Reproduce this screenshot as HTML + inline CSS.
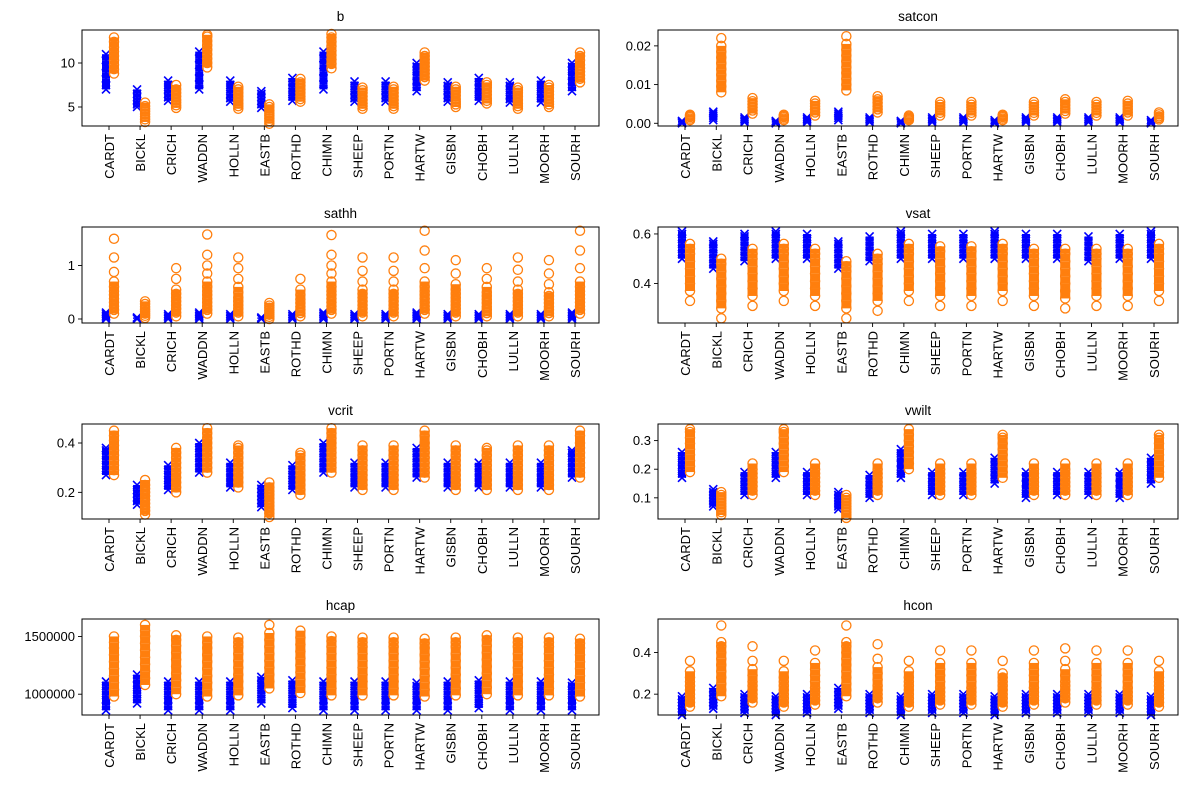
<!DOCTYPE html>
<html><head><meta charset="utf-8"><style>
html,body{margin:0;padding:0;background:#fff;}
svg{display:block;font-family:"Liberation Sans","DejaVu Sans",sans-serif;}
</style></head><body>
<svg id="fig" width="1189" height="791" viewBox="0 0 1189 791" xmlns="http://www.w3.org/2000/svg"></svg>
<script>
const categories=["CARDT","BICKL","CRICH","WADDN","HOLLN","EASTB","ROTHD","CHIMN","SHEEP","PORTN","HARTW","GISBN","CHOBH","LULLN","MOORH","SOURH"];

const bBlue=[[7,7.5,8.2,8.9,9.6,10.3,11],[5,5.3,5.7,6.1,6.5,7],[5.7,6.1,6.5,7,7.5,8],[7,7.6,8.3,9,9.8,10.5,11.3],[5.6,6,6.5,7,7.5,8],[4.9,5.3,5.7,6.1,6.5,6.8],[5.7,6.2,6.7,7.2,7.8,8.3],[7,7.6,8.3,9,9.8,10.5,11.3],[5.6,6,6.4,6.9,7.4,7.9],[5.6,6,6.4,6.9,7.4,7.9],[6.8,7.3,7.9,8.5,9.1,9.6,10],[5.6,6,6.4,6.9,7.4,7.8],[5.7,6.2,6.7,7.2,7.8,8.3],[5.5,5.9,6.4,6.9,7.4,7.8],[5.5,6,6.5,7,7.5,8],[6.8,7.3,7.9,8.5,9.1,9.6,10]];
const bOrange=[[8.8,9.3,9.8,10.3,10.8,11.3,11.8,12.4,12.9],[3.3,3.6,3.9,4.2,4.5,4.8,5.1,5.5],[4.9,5.2,5.5,5.8,6.2,6.6,7,7.5],[9.5,10,10.5,11,11.5,12,12.5,13,13.2],[4.8,5.1,5.4,5.8,6.2,6.6,7,7.3],[3.1,3.4,3.7,4,4.3,4.6,5,5.3],[5.6,5.9,6.2,6.6,7,7.4,7.8,8.2],[9.4,9.9,10.4,10.9,11.4,11.9,12.4,12.9,13.3],[4.8,5.1,5.4,5.8,6.2,6.6,6.9,7.2],[4.8,5.1,5.4,5.8,6.2,6.6,7,7.3],[8,8.4,8.8,9.2,9.6,10,10.4,10.8,11.2],[5,5.3,5.6,5.9,6.3,6.7,7,7.3],[5.4,5.7,6,6.4,6.8,7.2,7.5,7.8],[4.8,5.1,5.4,5.8,6.2,6.6,6.9,7.2],[5,5.3,5.6,6,6.4,6.8,7.2,7.5],[7.8,8.2,8.6,9,9.4,9.8,10.3,10.8,11.2]];

const satconBlue=[[0,0.0003,0.0006],[0.0008,0.0014,0.002,0.0025,0.003],[0.0003,0.0007,0.0011,0.0015],[0,0.0003,0.0006],[0.0003,0.0007,0.0011,0.0015],[0.0008,0.0014,0.002,0.0025,0.003],[0.0003,0.0007,0.0011,0.0015],[0,0.0003,0.0006],[0.0003,0.0007,0.0011,0.0015],[0.0003,0.0007,0.0011,0.0015],[0,0.0004,0.0008],[0.0003,0.0007,0.0011,0.0015],[0.0003,0.0007,0.0011,0.0015],[0.0003,0.0007,0.0011,0.0015],[0.0003,0.0007,0.0011,0.0015],[0,0.0004,0.0008]];
const satconOrange=[[0.0008,0.0012,0.0016,0.0019,0.0022],[0.008,0.0095,0.011,0.0125,0.014,0.0155,0.017,0.0185,0.02,0.022],[0.0025,0.0033,0.0041,0.0049,0.0057,0.0065],[0.0008,0.0012,0.0016,0.0019,0.0022],[0.002,0.0028,0.0036,0.0044,0.0051,0.0058],[0.0085,0.01,0.0115,0.013,0.0145,0.016,0.0175,0.019,0.0205,0.0225],[0.0028,0.0036,0.0044,0.0053,0.0062,0.007],[0.0008,0.0011,0.0014,0.0017,0.002],[0.002,0.0027,0.0034,0.0041,0.0048,0.0055],[0.002,0.0027,0.0034,0.0041,0.0048,0.0055],[0.0008,0.0012,0.0016,0.0019,0.0022],[0.002,0.0027,0.0034,0.0041,0.0048,0.0055],[0.0025,0.0032,0.0039,0.0047,0.0055,0.0062],[0.002,0.0027,0.0034,0.0041,0.0048,0.0055],[0.002,0.0028,0.0036,0.0044,0.0051,0.0058],[0.001,0.0014,0.0018,0.0023,0.0028]];

const sathhBlue=[[0,0.03,0.06,0.09,0.12],[0,0.015,0.03],[0,0.03,0.06,0.09],[0,0.03,0.06,0.09,0.12],[0,0.03,0.06,0.09],[0,0.015,0.03],[0,0.03,0.06,0.09],[0,0.03,0.06,0.09,0.12],[0,0.03,0.06,0.09],[0,0.03,0.06,0.09],[0,0.03,0.06,0.09,0.12],[0,0.03,0.06,0.09],[0,0.03,0.06,0.09],[0,0.03,0.06,0.09],[0,0.03,0.06,0.09],[0,0.03,0.06,0.09,0.12]];
const sathhOrange=[[0.1,0.17,0.24,0.31,0.38,0.45,0.52,0.6,0.7,0.88,1.15,1.5],[0.02,0.06,0.1,0.14,0.18,0.23,0.28,0.33],[0.05,0.12,0.19,0.26,0.33,0.4,0.47,0.55,0.75,0.95],[0.1,0.17,0.24,0.31,0.38,0.45,0.52,0.6,0.7,0.85,1.0,1.2,1.58],[0.05,0.12,0.19,0.26,0.33,0.4,0.5,0.6,0.75,0.95,1.15],[0,0.04,0.08,0.12,0.16,0.21,0.25,0.3],[0.05,0.11,0.17,0.23,0.3,0.37,0.45,0.55,0.75],[0.1,0.17,0.24,0.31,0.38,0.45,0.52,0.6,0.7,0.85,1.0,1.2,1.57],[0.05,0.12,0.19,0.26,0.33,0.4,0.47,0.55,0.7,0.9,1.15],[0.05,0.12,0.19,0.26,0.33,0.4,0.47,0.55,0.7,0.9,1.15],[0.1,0.17,0.24,0.31,0.38,0.45,0.52,0.6,0.7,0.95,1.28,1.65],[0.05,0.12,0.19,0.26,0.33,0.4,0.47,0.55,0.65,0.85,1.1],[0.05,0.11,0.17,0.23,0.3,0.37,0.43,0.5,0.6,0.75,0.95],[0.05,0.12,0.19,0.26,0.33,0.4,0.47,0.55,0.7,0.92,1.15],[0.05,0.11,0.17,0.23,0.3,0.37,0.43,0.5,0.65,0.85,1.1],[0.1,0.17,0.24,0.31,0.38,0.45,0.52,0.6,0.7,0.95,1.28,1.65]];

const vsatBlue=[[0.5,0.52,0.54,0.56,0.58,0.6,0.61],[0.46,0.48,0.5,0.52,0.54,0.56,0.57],[0.49,0.51,0.53,0.55,0.57,0.59,0.6],[0.5,0.52,0.54,0.56,0.58,0.6,0.61],[0.5,0.52,0.54,0.56,0.58,0.6],[0.46,0.48,0.5,0.52,0.54,0.56,0.57],[0.49,0.51,0.53,0.55,0.57,0.59],[0.5,0.52,0.54,0.56,0.58,0.6,0.61],[0.5,0.52,0.54,0.56,0.58,0.6],[0.5,0.52,0.54,0.56,0.58,0.6],[0.5,0.52,0.54,0.56,0.58,0.6,0.61],[0.5,0.52,0.54,0.56,0.58,0.6],[0.5,0.52,0.54,0.56,0.58,0.6],[0.49,0.51,0.53,0.55,0.57,0.59],[0.5,0.52,0.54,0.56,0.58,0.6],[0.5,0.52,0.54,0.56,0.58,0.6,0.61]];
const vsatOrange=[[0.33,0.37,0.4,0.43,0.46,0.49,0.52,0.54,0.56],[0.26,0.3,0.33,0.36,0.39,0.42,0.45,0.48,0.5],[0.31,0.35,0.38,0.41,0.44,0.47,0.5,0.52,0.54],[0.33,0.37,0.4,0.43,0.46,0.49,0.52,0.54,0.56],[0.31,0.35,0.38,0.41,0.44,0.47,0.5,0.52,0.54],[0.26,0.3,0.33,0.36,0.39,0.42,0.45,0.47,0.49],[0.29,0.33,0.36,0.39,0.42,0.45,0.48,0.5,0.52],[0.33,0.37,0.4,0.43,0.46,0.49,0.52,0.54,0.56],[0.31,0.35,0.38,0.41,0.44,0.47,0.5,0.53,0.55],[0.31,0.35,0.38,0.41,0.44,0.47,0.5,0.53,0.55],[0.33,0.37,0.4,0.43,0.46,0.49,0.52,0.54,0.56],[0.31,0.35,0.38,0.41,0.44,0.47,0.5,0.52,0.54],[0.3,0.34,0.37,0.4,0.43,0.46,0.49,0.52,0.54],[0.31,0.35,0.38,0.41,0.44,0.47,0.5,0.52,0.54],[0.31,0.35,0.38,0.41,0.44,0.47,0.5,0.52,0.54],[0.33,0.37,0.4,0.43,0.46,0.49,0.52,0.54,0.56]];

const vcritBlue=[[0.27,0.29,0.31,0.33,0.35,0.37,0.38],[0.15,0.165,0.18,0.195,0.21,0.23],[0.21,0.23,0.25,0.27,0.29,0.31],[0.28,0.3,0.32,0.34,0.36,0.38,0.4],[0.22,0.24,0.26,0.28,0.3,0.32],[0.14,0.155,0.17,0.185,0.2,0.215,0.23],[0.21,0.23,0.25,0.27,0.29,0.31],[0.28,0.3,0.32,0.34,0.36,0.38,0.4],[0.22,0.24,0.26,0.28,0.3,0.32],[0.22,0.24,0.26,0.28,0.3,0.32],[0.26,0.28,0.3,0.32,0.34,0.36,0.38],[0.22,0.24,0.26,0.28,0.3,0.32],[0.22,0.24,0.26,0.28,0.3,0.32],[0.22,0.24,0.26,0.28,0.3,0.32],[0.22,0.24,0.26,0.28,0.3,0.32],[0.26,0.28,0.3,0.32,0.34,0.36,0.37]];
const vcritOrange=[[0.27,0.29,0.31,0.33,0.35,0.37,0.39,0.41,0.43,0.45],[0.11,0.125,0.14,0.155,0.17,0.185,0.2,0.215,0.23,0.25],[0.2,0.22,0.24,0.26,0.28,0.3,0.32,0.34,0.36,0.38],[0.28,0.3,0.32,0.34,0.36,0.38,0.4,0.42,0.44,0.46],[0.22,0.24,0.26,0.28,0.3,0.32,0.34,0.36,0.38,0.39],[0.1,0.115,0.13,0.145,0.16,0.175,0.19,0.205,0.22,0.24],[0.19,0.21,0.23,0.25,0.27,0.29,0.31,0.33,0.35,0.36],[0.28,0.3,0.32,0.34,0.36,0.38,0.4,0.42,0.44,0.46],[0.21,0.23,0.25,0.27,0.29,0.31,0.33,0.35,0.37,0.39],[0.21,0.23,0.25,0.27,0.29,0.31,0.33,0.35,0.37,0.39],[0.26,0.28,0.3,0.32,0.34,0.36,0.38,0.4,0.43,0.45],[0.21,0.23,0.25,0.27,0.29,0.31,0.33,0.35,0.37,0.39],[0.21,0.23,0.25,0.27,0.29,0.31,0.33,0.35,0.37,0.38],[0.21,0.23,0.25,0.27,0.29,0.31,0.33,0.35,0.37,0.39],[0.21,0.23,0.25,0.27,0.29,0.31,0.33,0.35,0.37,0.39],[0.26,0.28,0.3,0.32,0.34,0.36,0.38,0.4,0.43,0.45]];

const vwiltBlue=[[0.17,0.185,0.2,0.215,0.23,0.245,0.26],[0.07,0.08,0.09,0.1,0.11,0.12,0.13],[0.11,0.125,0.14,0.155,0.17,0.19],[0.17,0.185,0.2,0.215,0.23,0.245,0.26],[0.11,0.125,0.14,0.155,0.17,0.19],[0.06,0.07,0.08,0.09,0.1,0.11,0.12],[0.1,0.115,0.13,0.145,0.16,0.18],[0.17,0.185,0.2,0.22,0.24,0.255,0.27],[0.11,0.125,0.14,0.155,0.17,0.19],[0.11,0.125,0.14,0.155,0.17,0.19],[0.15,0.165,0.18,0.195,0.21,0.225,0.24],[0.1,0.115,0.13,0.15,0.17,0.19],[0.11,0.125,0.14,0.155,0.17,0.19],[0.11,0.125,0.14,0.155,0.17,0.19],[0.1,0.115,0.13,0.15,0.17,0.19],[0.15,0.165,0.18,0.195,0.21,0.225,0.24]];
const vwiltOrange=[[0.19,0.21,0.23,0.25,0.27,0.29,0.31,0.33,0.34],[0.04,0.05,0.06,0.07,0.08,0.09,0.1,0.11,0.12],[0.11,0.125,0.14,0.155,0.17,0.185,0.2,0.22],[0.19,0.21,0.23,0.25,0.27,0.29,0.31,0.33,0.34],[0.11,0.125,0.14,0.155,0.17,0.185,0.2,0.22],[0.03,0.04,0.05,0.06,0.07,0.08,0.09,0.1,0.11],[0.11,0.125,0.14,0.155,0.17,0.185,0.2,0.22],[0.2,0.22,0.24,0.26,0.28,0.3,0.32,0.34],[0.11,0.125,0.14,0.155,0.17,0.185,0.2,0.22],[0.11,0.125,0.14,0.155,0.17,0.185,0.2,0.22],[0.17,0.19,0.21,0.23,0.25,0.27,0.29,0.31,0.32],[0.11,0.125,0.14,0.155,0.17,0.185,0.2,0.22],[0.11,0.125,0.14,0.155,0.17,0.185,0.2,0.22],[0.11,0.125,0.14,0.155,0.17,0.185,0.2,0.22],[0.11,0.125,0.14,0.155,0.17,0.185,0.2,0.22],[0.17,0.19,0.21,0.23,0.25,0.27,0.29,0.31,0.32]];

const hcapBlue=[[860000,900000,950000,990000,1030000,1070000,1110000],[920000,960000,1000000,1040000,1080000,1130000,1170000],[860000,900000,950000,990000,1030000,1070000,1110000],[860000,900000,950000,990000,1030000,1070000,1110000],[860000,900000,950000,990000,1030000,1070000,1110000],[920000,960000,1000000,1040000,1080000,1120000,1150000],[880000,920000,960000,1000000,1040000,1080000,1120000],[860000,900000,950000,990000,1030000,1070000,1110000],[860000,900000,950000,990000,1030000,1070000,1110000],[860000,900000,950000,990000,1030000,1070000,1110000],[860000,900000,950000,990000,1030000,1070000,1100000],[860000,900000,950000,990000,1030000,1070000,1110000],[880000,920000,960000,1000000,1040000,1080000,1120000],[860000,900000,950000,990000,1030000,1070000,1110000],[860000,900000,950000,990000,1030000,1070000,1110000],[860000,900000,950000,990000,1030000,1070000,1100000]];
const hcapOrange=[[980000,1040000,1100000,1160000,1220000,1280000,1340000,1400000,1450000,1500000],[1080000,1140000,1200000,1260000,1320000,1380000,1440000,1500000,1550000,1600000],[1000000,1060000,1120000,1180000,1240000,1300000,1360000,1420000,1470000,1510000],[980000,1040000,1100000,1160000,1220000,1280000,1340000,1400000,1450000,1500000],[990000,1050000,1110000,1170000,1230000,1290000,1350000,1410000,1450000,1490000],[1050000,1110000,1170000,1230000,1290000,1350000,1410000,1470000,1530000,1600000],[1010000,1070000,1130000,1190000,1250000,1310000,1370000,1430000,1490000,1550000],[990000,1050000,1110000,1170000,1230000,1290000,1350000,1410000,1460000,1500000],[990000,1050000,1110000,1170000,1230000,1290000,1350000,1410000,1450000,1490000],[990000,1050000,1110000,1170000,1230000,1290000,1350000,1410000,1450000,1490000],[980000,1040000,1100000,1160000,1220000,1280000,1340000,1400000,1440000,1480000],[990000,1050000,1110000,1170000,1230000,1290000,1350000,1410000,1450000,1490000],[1000000,1060000,1120000,1180000,1240000,1300000,1360000,1420000,1470000,1510000],[990000,1050000,1110000,1170000,1230000,1290000,1350000,1410000,1450000,1490000],[990000,1050000,1110000,1170000,1230000,1290000,1350000,1410000,1450000,1490000],[980000,1040000,1100000,1160000,1220000,1280000,1340000,1400000,1440000,1480000]];

const hconBlue=[[0.1,0.115,0.13,0.145,0.16,0.175,0.19],[0.13,0.145,0.16,0.175,0.19,0.21,0.23],[0.11,0.125,0.14,0.155,0.17,0.185,0.2],[0.1,0.115,0.13,0.145,0.16,0.175,0.19],[0.11,0.125,0.14,0.155,0.17,0.185,0.2],[0.13,0.145,0.16,0.175,0.19,0.21,0.23],[0.11,0.125,0.14,0.155,0.17,0.185,0.2],[0.1,0.115,0.13,0.145,0.16,0.175,0.19],[0.11,0.125,0.14,0.155,0.17,0.185,0.2],[0.11,0.125,0.14,0.155,0.17,0.185,0.2],[0.1,0.115,0.13,0.145,0.16,0.175,0.19],[0.11,0.125,0.14,0.155,0.17,0.185,0.2],[0.11,0.125,0.14,0.155,0.17,0.185,0.2],[0.11,0.125,0.14,0.155,0.17,0.185,0.2],[0.11,0.125,0.14,0.155,0.17,0.185,0.2],[0.1,0.115,0.13,0.145,0.16,0.175,0.19]];
const hconOrange=[[0.14,0.16,0.18,0.2,0.22,0.24,0.26,0.28,0.31,0.36],[0.19,0.22,0.25,0.28,0.31,0.34,0.37,0.4,0.43,0.45,0.53],[0.16,0.18,0.2,0.22,0.24,0.26,0.29,0.32,0.36,0.43],[0.14,0.16,0.18,0.2,0.22,0.24,0.26,0.28,0.31,0.36],[0.15,0.17,0.19,0.21,0.23,0.26,0.29,0.32,0.35,0.41],[0.19,0.22,0.25,0.28,0.31,0.34,0.37,0.4,0.43,0.45,0.53],[0.16,0.18,0.2,0.22,0.24,0.27,0.3,0.33,0.37,0.44],[0.14,0.16,0.18,0.2,0.22,0.24,0.26,0.28,0.31,0.36],[0.15,0.17,0.19,0.21,0.23,0.26,0.29,0.32,0.35,0.41],[0.15,0.17,0.19,0.21,0.23,0.26,0.29,0.32,0.35,0.41],[0.14,0.16,0.18,0.2,0.22,0.24,0.26,0.28,0.3,0.36],[0.15,0.17,0.19,0.21,0.23,0.26,0.29,0.32,0.35,0.41],[0.16,0.18,0.2,0.22,0.24,0.26,0.29,0.32,0.36,0.42],[0.15,0.17,0.19,0.21,0.23,0.26,0.29,0.32,0.35,0.41],[0.15,0.17,0.19,0.21,0.23,0.26,0.29,0.32,0.35,0.41],[0.14,0.16,0.18,0.2,0.22,0.24,0.26,0.28,0.31,0.36]];

const bTicks=[5,10], bTickLabels=["5","10"];
const satconTicks=[0,0.01,0.02], satconTickLabels=["0.00","0.01","0.02"];
const sathhTicks=[0,1], sathhTickLabels=["0","1"];
const vsatTicks=[0.4,0.6], vsatTickLabels=["0.4","0.6"];
const vcritTicks=[0.2,0.4], vcritTickLabels=["0.2","0.4"];
const vwiltTicks=[0.1,0.2,0.3], vwiltTickLabels=["0.1","0.2","0.3"];
const hcapTicks=[1000000,1500000], hcapTickLabels=["1000000","1500000"];
const hconTicks=[0.2,0.4], hconTickLabels=["0.2","0.4"];

const NS="http://www.w3.org/2000/svg";
const svg=document.getElementById('fig');
function mk(tag,attrs,parent){const e=document.createElementNS(NS,tag);for(const k in attrs)e.setAttribute(k,attrs[k]);(parent||svg).appendChild(e);return e;}

// fill dense stretches between neighbouring points so overlapping markers look solid
function fillDense(vals,yS,cx,w,color,gap,parent){
  const ys=vals.map(yS).sort((a,b)=>a-b);
  for(let k=0;k<ys.length-1;k++){
    if(ys[k+1]-ys[k]<gap){
      mk('rect',{x:cx-w/2,y:ys[k],width:w,height:ys[k+1]-ys[k],fill:color},parent);
    }
  }
}

function panel(name,L,T,W,H,ymin,ymax,blue,orange,ticks,tickLabels){
  const g=mk('g',{});
  
  
  const yS=v=>T+H-(v-ymin)/(ymax-ymin)*H;
  const xS=i=>L+27+i*(W-51)/15;
  const t=mk('text',{x:L+W/2,y:T-9,'text-anchor':'middle','font-size':'13.5',fill:'#000'},g);
  t.textContent=name;
  
  
  const pts=mk('g',{},g);
  categories.forEach((c,i)=>{
    const bx=xS(i)-3, ox=xS(i)+5;
    fillDense(blue[i],yS,bx,8,'#0000ff',9,pts);
    blue[i].forEach(v=>{
      const y=yS(v);
      const m=mk('path',{d:`M${bx-4},${y-4}L${bx+4},${y+4}M${bx-4},${y+4}L${bx+4},${y-4}`,stroke:'#0000ff','stroke-width':1.6,fill:'none'},pts);
      
      
    });
    fillDense(orange[i],yS,ox,10,'#ff7f0e',7.5,pts);
    orange[i].forEach(v=>{
      const m=mk('circle',{cx:ox,cy:yS(v),r:4.6,stroke:'#ff7f0e','stroke-width':1.3,fill:'none'},pts);
      
      
    });
    mk('line',{x1:xS(i),x2:xS(i),y1:T+H,y2:T+H+4,stroke:'#000','stroke-width':0.9},g);
    const lab=mk('text',{transform:`translate(${xS(i)+5},${T+H+8}) rotate(-90)`,'text-anchor':'end','font-size':'13',fill:'#000'},g);
    lab.textContent=c;
    
    
  });
  ticks.forEach((v,k)=>{
    const y=yS(v);
    mk('line',{x1:L-4,x2:L,y1:y,y2:y,stroke:'#000','stroke-width':0.9},g);
    const tl=mk('text',{x:L-7,y:y+4.5,'text-anchor':'end','font-size':'13',fill:'#000'},g);
    tl.textContent=tickLabels[k];
    
    
  });
  const fr=mk('rect',{x:L,y:T,width:W,height:H,fill:'none',stroke:'#000','stroke-width':1},g);
  
  
}
const LL=82,LW=517,RL=658,RW=520;
panel('b',LL,30,LW,96,2.84,13.75,bBlue,bOrange,bTicks,bTickLabels);
panel('satcon',RL,30,RW,96,-0.0007,0.0241,satconBlue,satconOrange,satconTicks,satconTickLabels);
panel('sathh',LL,227,LW,96,-0.075,1.72,sathhBlue,sathhOrange,sathhTicks,sathhTickLabels);
panel('vsat',RL,227,RW,96,0.241,0.628,vsatBlue,vsatOrange,vsatTicks,vsatTickLabels);
panel('vcrit',LL,424,LW,95,0.092,0.477,vcritBlue,vcritOrange,vcritTicks,vcritTickLabels);
panel('vwilt',RL,424,RW,95,0.026,0.358,vwiltBlue,vwiltOrange,vwiltTicks,vwiltTickLabels);
panel('hcap',LL,619,LW,96,820000,1651000,hcapBlue,hcapOrange,hcapTicks,hcapTickLabels);
panel('hcon',RL,619,RW,96,0.100,0.561,hconBlue,hconOrange,hconTicks,hconTickLabels);
</script>
</body></html>
